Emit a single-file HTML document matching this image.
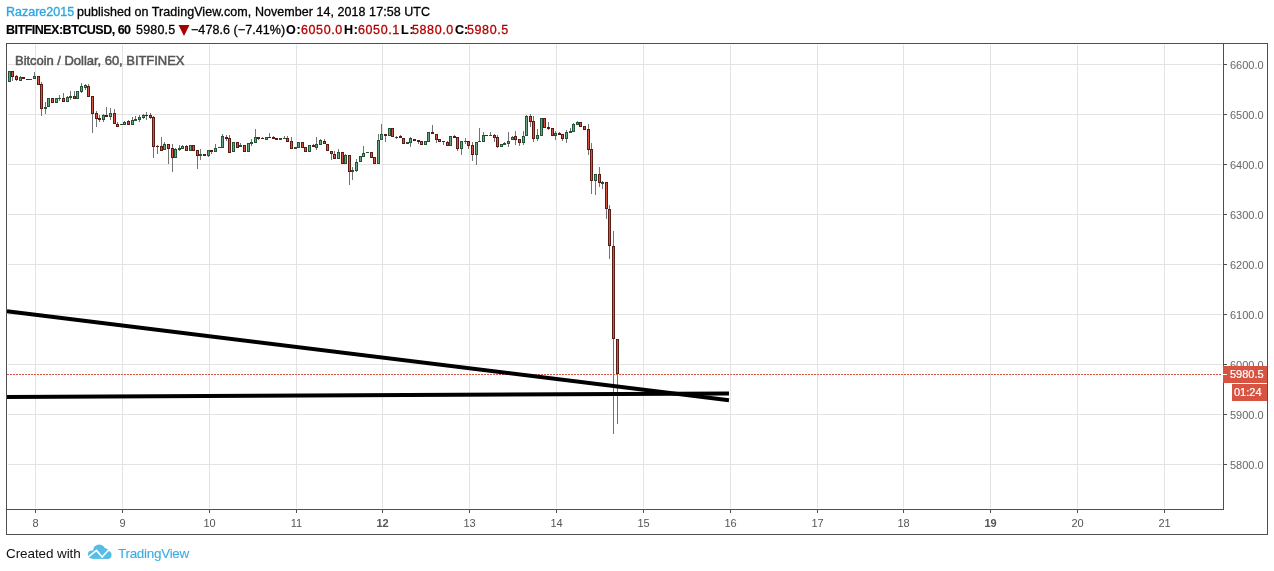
<!DOCTYPE html>
<html><head><meta charset="utf-8"><style>
html,body{margin:0;padding:0;background:#fff;width:1274px;height:571px;overflow:hidden;}
body{position:relative;font-family:"Liberation Sans",sans-serif;}
.t{position:absolute;white-space:nowrap;line-height:1;will-change:transform;}
svg{position:absolute;left:0;top:0;}
</style></head><body>

<svg width="1274" height="571" viewBox="0 0 1274 571" shape-rendering="crispEdges">
<rect x="35" y="45" width="1" height="463" fill="#e3e3e3"/>
<rect x="122" y="45" width="1" height="463" fill="#e3e3e3"/>
<rect x="209" y="45" width="1" height="463" fill="#e3e3e3"/>
<rect x="296" y="45" width="1" height="463" fill="#e3e3e3"/>
<rect x="382" y="45" width="1" height="463" fill="#e3e3e3"/>
<rect x="469" y="45" width="1" height="463" fill="#e3e3e3"/>
<rect x="556" y="45" width="1" height="463" fill="#e3e3e3"/>
<rect x="643" y="45" width="1" height="463" fill="#e3e3e3"/>
<rect x="730" y="45" width="1" height="463" fill="#e3e3e3"/>
<rect x="817" y="45" width="1" height="463" fill="#e3e3e3"/>
<rect x="903" y="45" width="1" height="463" fill="#e3e3e3"/>
<rect x="990" y="45" width="1" height="463" fill="#e3e3e3"/>
<rect x="1077" y="45" width="1" height="463" fill="#e3e3e3"/>
<rect x="1164" y="45" width="1" height="463" fill="#e3e3e3"/>
<rect x="8" y="64" width="1214" height="1" fill="#e3e3e3"/>
<rect x="8" y="114" width="1214" height="1" fill="#e3e3e3"/>
<rect x="8" y="164" width="1214" height="1" fill="#e3e3e3"/>
<rect x="8" y="214" width="1214" height="1" fill="#e3e3e3"/>
<rect x="8" y="264" width="1214" height="1" fill="#e3e3e3"/>
<rect x="8" y="314" width="1214" height="1" fill="#e3e3e3"/>
<rect x="8" y="364" width="1214" height="1" fill="#e3e3e3"/>
<rect x="8" y="414" width="1214" height="1" fill="#e3e3e3"/>
<rect x="8" y="464" width="1214" height="1" fill="#e3e3e3"/>
<rect x="8" y="71" width="3" height="11" fill="#225437"/>
<rect x="9" y="72" width="1" height="9" fill="#6ba583"/>
<rect x="12" y="71" width="1" height="10" fill="#737375"/>
<rect x="11" y="71" width="3" height="6" fill="#5b1a13"/>
<rect x="12" y="72" width="1" height="4" fill="#d75442"/>
<rect x="16" y="75" width="1" height="6" fill="#737375"/>
<rect x="15" y="76" width="3" height="4" fill="#5b1a13"/>
<rect x="16" y="77" width="1" height="2" fill="#d75442"/>
<rect x="20" y="76" width="1" height="5" fill="#737375"/>
<rect x="19" y="77" width="3" height="4" fill="#225437"/>
<rect x="20" y="78" width="1" height="2" fill="#6ba583"/>
<rect x="22" y="77" width="3" height="2" fill="#5b1a13"/>
<rect x="26" y="79" width="3" height="1" fill="#5b1a13"/>
<rect x="29" y="79" width="3" height="1" fill="#225437"/>
<rect x="34" y="72" width="1" height="7" fill="#737375"/>
<rect x="33" y="76" width="3" height="3" fill="#225437"/>
<rect x="34" y="77" width="1" height="1" fill="#6ba583"/>
<rect x="37" y="76" width="3" height="9" fill="#5b1a13"/>
<rect x="38" y="77" width="1" height="7" fill="#d75442"/>
<rect x="41" y="82" width="1" height="34" fill="#737375"/>
<rect x="40" y="84" width="3" height="25" fill="#5b1a13"/>
<rect x="41" y="85" width="1" height="23" fill="#d75442"/>
<rect x="45" y="102" width="1" height="12" fill="#737375"/>
<rect x="44" y="107" width="3" height="2" fill="#225437"/>
<rect x="47" y="98" width="3" height="9" fill="#225437"/>
<rect x="48" y="99" width="1" height="7" fill="#6ba583"/>
<rect x="51" y="98" width="3" height="5" fill="#5b1a13"/>
<rect x="52" y="99" width="1" height="3" fill="#d75442"/>
<rect x="55" y="98" width="3" height="5" fill="#225437"/>
<rect x="56" y="99" width="1" height="3" fill="#6ba583"/>
<rect x="59" y="95" width="1" height="6" fill="#737375"/>
<rect x="58" y="98" width="3" height="1" fill="#225437"/>
<rect x="63" y="93" width="1" height="9" fill="#737375"/>
<rect x="62" y="98" width="3" height="4" fill="#5b1a13"/>
<rect x="63" y="99" width="1" height="2" fill="#d75442"/>
<rect x="67" y="96" width="1" height="6" fill="#737375"/>
<rect x="66" y="97" width="3" height="5" fill="#225437"/>
<rect x="67" y="98" width="1" height="3" fill="#6ba583"/>
<rect x="70" y="91" width="1" height="9" fill="#737375"/>
<rect x="69" y="96" width="3" height="2" fill="#225437"/>
<rect x="74" y="91" width="1" height="8" fill="#737375"/>
<rect x="73" y="96" width="3" height="3" fill="#5b1a13"/>
<rect x="74" y="97" width="1" height="1" fill="#d75442"/>
<rect x="76" y="91" width="3" height="8" fill="#225437"/>
<rect x="77" y="92" width="1" height="6" fill="#6ba583"/>
<rect x="81" y="83" width="1" height="10" fill="#737375"/>
<rect x="80" y="86" width="3" height="6" fill="#225437"/>
<rect x="81" y="87" width="1" height="4" fill="#6ba583"/>
<rect x="85" y="84" width="1" height="6" fill="#737375"/>
<rect x="84" y="85" width="3" height="3" fill="#225437"/>
<rect x="85" y="86" width="1" height="1" fill="#6ba583"/>
<rect x="88" y="84" width="1" height="13" fill="#737375"/>
<rect x="87" y="86" width="3" height="11" fill="#5b1a13"/>
<rect x="88" y="87" width="1" height="9" fill="#d75442"/>
<rect x="92" y="96" width="1" height="37" fill="#737375"/>
<rect x="91" y="96" width="3" height="18" fill="#5b1a13"/>
<rect x="92" y="97" width="1" height="16" fill="#d75442"/>
<rect x="96" y="111" width="1" height="16" fill="#737375"/>
<rect x="95" y="113" width="3" height="6" fill="#5b1a13"/>
<rect x="96" y="114" width="1" height="4" fill="#d75442"/>
<rect x="99" y="115" width="1" height="7" fill="#737375"/>
<rect x="98" y="118" width="3" height="2" fill="#5b1a13"/>
<rect x="103" y="114" width="1" height="8" fill="#737375"/>
<rect x="102" y="115" width="3" height="5" fill="#225437"/>
<rect x="103" y="116" width="1" height="3" fill="#6ba583"/>
<rect x="106" y="107" width="1" height="10" fill="#737375"/>
<rect x="105" y="115" width="3" height="2" fill="#5b1a13"/>
<rect x="110" y="108" width="1" height="12" fill="#737375"/>
<rect x="109" y="113" width="3" height="4" fill="#225437"/>
<rect x="110" y="114" width="1" height="2" fill="#6ba583"/>
<rect x="114" y="109" width="1" height="15" fill="#737375"/>
<rect x="113" y="113" width="3" height="11" fill="#5b1a13"/>
<rect x="114" y="114" width="1" height="9" fill="#d75442"/>
<rect x="117" y="122" width="1" height="5" fill="#737375"/>
<rect x="116" y="124" width="3" height="3" fill="#5b1a13"/>
<rect x="117" y="125" width="1" height="1" fill="#d75442"/>
<rect x="120" y="124" width="3" height="1" fill="#225437"/>
<rect x="124" y="121" width="1" height="4" fill="#737375"/>
<rect x="123" y="122" width="3" height="3" fill="#225437"/>
<rect x="124" y="123" width="1" height="1" fill="#6ba583"/>
<rect x="128" y="120" width="1" height="5" fill="#737375"/>
<rect x="127" y="121" width="3" height="4" fill="#5b1a13"/>
<rect x="128" y="122" width="1" height="2" fill="#d75442"/>
<rect x="132" y="117" width="1" height="8" fill="#737375"/>
<rect x="131" y="120" width="3" height="5" fill="#225437"/>
<rect x="132" y="121" width="1" height="3" fill="#6ba583"/>
<rect x="135" y="116" width="1" height="5" fill="#737375"/>
<rect x="134" y="119" width="3" height="2" fill="#225437"/>
<rect x="139" y="115" width="1" height="7" fill="#737375"/>
<rect x="138" y="117" width="3" height="3" fill="#225437"/>
<rect x="139" y="118" width="1" height="1" fill="#6ba583"/>
<rect x="143" y="114" width="1" height="5" fill="#737375"/>
<rect x="142" y="115" width="3" height="3" fill="#225437"/>
<rect x="143" y="116" width="1" height="1" fill="#6ba583"/>
<rect x="146" y="112" width="1" height="8" fill="#737375"/>
<rect x="145" y="115" width="3" height="1" fill="#5b1a13"/>
<rect x="150" y="113" width="1" height="6" fill="#737375"/>
<rect x="149" y="115" width="3" height="3" fill="#5b1a13"/>
<rect x="150" y="116" width="1" height="1" fill="#d75442"/>
<rect x="153" y="116" width="1" height="42" fill="#737375"/>
<rect x="152" y="117" width="3" height="30" fill="#5b1a13"/>
<rect x="153" y="118" width="1" height="28" fill="#d75442"/>
<rect x="157" y="145" width="1" height="9" fill="#737375"/>
<rect x="156" y="146" width="3" height="1" fill="#5b1a13"/>
<rect x="161" y="137" width="1" height="14" fill="#737375"/>
<rect x="160" y="146" width="3" height="5" fill="#5b1a13"/>
<rect x="161" y="147" width="1" height="3" fill="#d75442"/>
<rect x="164" y="142" width="1" height="8" fill="#737375"/>
<rect x="163" y="144" width="3" height="6" fill="#225437"/>
<rect x="164" y="145" width="1" height="4" fill="#6ba583"/>
<rect x="168" y="144" width="1" height="20" fill="#737375"/>
<rect x="167" y="144" width="3" height="5" fill="#5b1a13"/>
<rect x="168" y="145" width="1" height="3" fill="#d75442"/>
<rect x="172" y="144" width="1" height="28" fill="#737375"/>
<rect x="171" y="148" width="3" height="10" fill="#5b1a13"/>
<rect x="172" y="149" width="1" height="8" fill="#d75442"/>
<rect x="175" y="148" width="1" height="10" fill="#737375"/>
<rect x="174" y="149" width="3" height="9" fill="#225437"/>
<rect x="175" y="150" width="1" height="7" fill="#6ba583"/>
<rect x="179" y="145" width="1" height="6" fill="#737375"/>
<rect x="178" y="148" width="3" height="2" fill="#225437"/>
<rect x="182" y="145" width="1" height="4" fill="#737375"/>
<rect x="181" y="146" width="3" height="3" fill="#225437"/>
<rect x="182" y="147" width="1" height="1" fill="#6ba583"/>
<rect x="186" y="145" width="1" height="6" fill="#737375"/>
<rect x="185" y="146" width="3" height="5" fill="#5b1a13"/>
<rect x="186" y="147" width="1" height="3" fill="#d75442"/>
<rect x="189" y="145" width="3" height="6" fill="#225437"/>
<rect x="190" y="146" width="1" height="4" fill="#6ba583"/>
<rect x="192" y="145" width="3" height="6" fill="#5b1a13"/>
<rect x="193" y="146" width="1" height="4" fill="#d75442"/>
<rect x="197" y="150" width="1" height="19" fill="#737375"/>
<rect x="196" y="150" width="3" height="6" fill="#5b1a13"/>
<rect x="197" y="151" width="1" height="4" fill="#d75442"/>
<rect x="200" y="149" width="1" height="11" fill="#737375"/>
<rect x="199" y="154" width="3" height="2" fill="#225437"/>
<rect x="203" y="154" width="3" height="2" fill="#5b1a13"/>
<rect x="208" y="150" width="1" height="7" fill="#737375"/>
<rect x="207" y="150" width="3" height="6" fill="#225437"/>
<rect x="208" y="151" width="1" height="4" fill="#6ba583"/>
<rect x="211" y="150" width="1" height="4" fill="#737375"/>
<rect x="210" y="150" width="3" height="2" fill="#5b1a13"/>
<rect x="215" y="144" width="1" height="8" fill="#737375"/>
<rect x="214" y="148" width="3" height="4" fill="#225437"/>
<rect x="215" y="149" width="1" height="2" fill="#6ba583"/>
<rect x="218" y="147" width="3" height="1" fill="#225437"/>
<rect x="222" y="134" width="1" height="14" fill="#737375"/>
<rect x="221" y="136" width="3" height="12" fill="#225437"/>
<rect x="222" y="137" width="1" height="10" fill="#6ba583"/>
<rect x="226" y="135" width="1" height="6" fill="#737375"/>
<rect x="225" y="137" width="3" height="2" fill="#5b1a13"/>
<rect x="229" y="135" width="1" height="18" fill="#737375"/>
<rect x="228" y="138" width="3" height="15" fill="#5b1a13"/>
<rect x="229" y="139" width="1" height="13" fill="#d75442"/>
<rect x="232" y="142" width="3" height="10" fill="#225437"/>
<rect x="233" y="143" width="1" height="8" fill="#6ba583"/>
<rect x="236" y="142" width="3" height="6" fill="#5b1a13"/>
<rect x="237" y="143" width="1" height="4" fill="#d75442"/>
<rect x="240" y="143" width="1" height="4" fill="#737375"/>
<rect x="239" y="145" width="3" height="2" fill="#225437"/>
<rect x="243" y="145" width="3" height="7" fill="#5b1a13"/>
<rect x="244" y="146" width="1" height="5" fill="#d75442"/>
<rect x="247" y="143" width="3" height="9" fill="#225437"/>
<rect x="248" y="144" width="1" height="7" fill="#6ba583"/>
<rect x="251" y="139" width="1" height="7" fill="#737375"/>
<rect x="250" y="142" width="3" height="2" fill="#225437"/>
<rect x="255" y="129" width="1" height="14" fill="#737375"/>
<rect x="254" y="137" width="3" height="6" fill="#225437"/>
<rect x="255" y="138" width="1" height="4" fill="#6ba583"/>
<rect x="258" y="137" width="1" height="3" fill="#737375"/>
<rect x="257" y="137" width="3" height="2" fill="#5b1a13"/>
<rect x="262" y="137" width="1" height="2" fill="#737375"/>
<rect x="261" y="138" width="3" height="1" fill="#5b1a13"/>
<rect x="265" y="137" width="3" height="3" fill="#225437"/>
<rect x="266" y="138" width="1" height="1" fill="#6ba583"/>
<rect x="269" y="133" width="1" height="5" fill="#737375"/>
<rect x="268" y="137" width="3" height="1" fill="#5b1a13"/>
<rect x="273" y="136" width="1" height="3" fill="#737375"/>
<rect x="272" y="137" width="3" height="2" fill="#5b1a13"/>
<rect x="275" y="138" width="3" height="2" fill="#5b1a13"/>
<rect x="279" y="138" width="3" height="2" fill="#225437"/>
<rect x="284" y="136" width="1" height="3" fill="#737375"/>
<rect x="283" y="138" width="3" height="1" fill="#225437"/>
<rect x="287" y="136" width="1" height="6" fill="#737375"/>
<rect x="286" y="138" width="3" height="4" fill="#5b1a13"/>
<rect x="287" y="139" width="1" height="2" fill="#d75442"/>
<rect x="291" y="137" width="1" height="12" fill="#737375"/>
<rect x="290" y="141" width="3" height="8" fill="#5b1a13"/>
<rect x="291" y="142" width="1" height="6" fill="#d75442"/>
<rect x="294" y="147" width="3" height="2" fill="#225437"/>
<rect x="297" y="142" width="3" height="6" fill="#225437"/>
<rect x="298" y="143" width="1" height="4" fill="#6ba583"/>
<rect x="301" y="142" width="3" height="6" fill="#5b1a13"/>
<rect x="302" y="143" width="1" height="4" fill="#d75442"/>
<rect x="304" y="147" width="3" height="5" fill="#5b1a13"/>
<rect x="305" y="148" width="1" height="3" fill="#d75442"/>
<rect x="308" y="145" width="3" height="7" fill="#225437"/>
<rect x="309" y="146" width="1" height="5" fill="#6ba583"/>
<rect x="313" y="144" width="1" height="3" fill="#737375"/>
<rect x="312" y="145" width="3" height="2" fill="#5b1a13"/>
<rect x="316" y="137" width="1" height="13" fill="#737375"/>
<rect x="315" y="144" width="3" height="4" fill="#225437"/>
<rect x="316" y="145" width="1" height="2" fill="#6ba583"/>
<rect x="320" y="139" width="1" height="6" fill="#737375"/>
<rect x="319" y="140" width="3" height="5" fill="#225437"/>
<rect x="320" y="141" width="1" height="3" fill="#6ba583"/>
<rect x="324" y="139" width="1" height="5" fill="#737375"/>
<rect x="323" y="141" width="3" height="3" fill="#5b1a13"/>
<rect x="324" y="142" width="1" height="1" fill="#d75442"/>
<rect x="326" y="144" width="3" height="7" fill="#5b1a13"/>
<rect x="327" y="145" width="1" height="5" fill="#d75442"/>
<rect x="331" y="151" width="1" height="9" fill="#737375"/>
<rect x="330" y="151" width="3" height="3" fill="#5b1a13"/>
<rect x="331" y="152" width="1" height="1" fill="#d75442"/>
<rect x="334" y="151" width="1" height="8" fill="#737375"/>
<rect x="333" y="154" width="3" height="5" fill="#5b1a13"/>
<rect x="334" y="155" width="1" height="3" fill="#d75442"/>
<rect x="338" y="149" width="1" height="10" fill="#737375"/>
<rect x="337" y="152" width="3" height="7" fill="#225437"/>
<rect x="338" y="153" width="1" height="5" fill="#6ba583"/>
<rect x="341" y="152" width="3" height="12" fill="#5b1a13"/>
<rect x="342" y="153" width="1" height="10" fill="#d75442"/>
<rect x="345" y="154" width="1" height="10" fill="#737375"/>
<rect x="344" y="155" width="3" height="9" fill="#225437"/>
<rect x="345" y="156" width="1" height="7" fill="#6ba583"/>
<rect x="349" y="155" width="1" height="30" fill="#737375"/>
<rect x="348" y="155" width="3" height="17" fill="#5b1a13"/>
<rect x="349" y="156" width="1" height="15" fill="#d75442"/>
<rect x="352" y="167" width="1" height="13" fill="#737375"/>
<rect x="351" y="170" width="3" height="2" fill="#225437"/>
<rect x="356" y="159" width="1" height="13" fill="#737375"/>
<rect x="355" y="162" width="3" height="9" fill="#225437"/>
<rect x="356" y="163" width="1" height="7" fill="#6ba583"/>
<rect x="359" y="156" width="3" height="6" fill="#225437"/>
<rect x="360" y="157" width="1" height="4" fill="#6ba583"/>
<rect x="363" y="146" width="1" height="11" fill="#737375"/>
<rect x="362" y="153" width="3" height="4" fill="#225437"/>
<rect x="363" y="154" width="1" height="2" fill="#6ba583"/>
<rect x="366" y="152" width="3" height="1" fill="#225437"/>
<rect x="370" y="152" width="3" height="6" fill="#5b1a13"/>
<rect x="371" y="153" width="1" height="4" fill="#d75442"/>
<rect x="373" y="157" width="3" height="7" fill="#5b1a13"/>
<rect x="374" y="158" width="1" height="5" fill="#d75442"/>
<rect x="378" y="134" width="1" height="30" fill="#737375"/>
<rect x="377" y="140" width="3" height="24" fill="#225437"/>
<rect x="378" y="141" width="1" height="22" fill="#6ba583"/>
<rect x="381" y="124" width="1" height="16" fill="#737375"/>
<rect x="380" y="134" width="3" height="6" fill="#225437"/>
<rect x="381" y="135" width="1" height="4" fill="#6ba583"/>
<rect x="385" y="134" width="1" height="8" fill="#737375"/>
<rect x="384" y="134" width="3" height="2" fill="#5b1a13"/>
<rect x="388" y="128" width="3" height="8" fill="#225437"/>
<rect x="389" y="129" width="1" height="6" fill="#6ba583"/>
<rect x="391" y="128" width="3" height="9" fill="#5b1a13"/>
<rect x="392" y="129" width="1" height="7" fill="#d75442"/>
<rect x="396" y="136" width="1" height="3" fill="#737375"/>
<rect x="395" y="137" width="3" height="1" fill="#225437"/>
<rect x="400" y="135" width="1" height="3" fill="#737375"/>
<rect x="399" y="136" width="3" height="2" fill="#5b1a13"/>
<rect x="402" y="138" width="3" height="6" fill="#5b1a13"/>
<rect x="403" y="139" width="1" height="4" fill="#d75442"/>
<rect x="406" y="142" width="3" height="2" fill="#225437"/>
<rect x="410" y="137" width="1" height="10" fill="#737375"/>
<rect x="409" y="138" width="3" height="5" fill="#225437"/>
<rect x="410" y="139" width="1" height="3" fill="#6ba583"/>
<rect x="413" y="139" width="3" height="2" fill="#5b1a13"/>
<rect x="418" y="140" width="1" height="4" fill="#737375"/>
<rect x="417" y="140" width="3" height="2" fill="#5b1a13"/>
<rect x="420" y="141" width="3" height="4" fill="#5b1a13"/>
<rect x="421" y="142" width="1" height="2" fill="#d75442"/>
<rect x="424" y="141" width="3" height="4" fill="#225437"/>
<rect x="425" y="142" width="1" height="2" fill="#6ba583"/>
<rect x="427" y="132" width="3" height="10" fill="#225437"/>
<rect x="428" y="133" width="1" height="8" fill="#6ba583"/>
<rect x="432" y="125" width="1" height="9" fill="#737375"/>
<rect x="431" y="132" width="3" height="2" fill="#5b1a13"/>
<rect x="436" y="134" width="1" height="9" fill="#737375"/>
<rect x="435" y="134" width="3" height="6" fill="#5b1a13"/>
<rect x="436" y="135" width="1" height="4" fill="#d75442"/>
<rect x="438" y="139" width="3" height="3" fill="#5b1a13"/>
<rect x="439" y="140" width="1" height="1" fill="#d75442"/>
<rect x="443" y="141" width="1" height="4" fill="#737375"/>
<rect x="442" y="141" width="3" height="1" fill="#5b1a13"/>
<rect x="447" y="141" width="1" height="5" fill="#737375"/>
<rect x="446" y="142" width="3" height="4" fill="#5b1a13"/>
<rect x="447" y="143" width="1" height="2" fill="#d75442"/>
<rect x="449" y="136" width="3" height="10" fill="#225437"/>
<rect x="450" y="137" width="1" height="8" fill="#6ba583"/>
<rect x="454" y="135" width="1" height="3" fill="#737375"/>
<rect x="453" y="136" width="3" height="2" fill="#5b1a13"/>
<rect x="457" y="137" width="1" height="14" fill="#737375"/>
<rect x="456" y="137" width="3" height="12" fill="#5b1a13"/>
<rect x="457" y="138" width="1" height="10" fill="#d75442"/>
<rect x="461" y="141" width="1" height="14" fill="#737375"/>
<rect x="460" y="141" width="3" height="8" fill="#225437"/>
<rect x="461" y="142" width="1" height="6" fill="#6ba583"/>
<rect x="465" y="138" width="1" height="6" fill="#737375"/>
<rect x="464" y="141" width="3" height="1" fill="#225437"/>
<rect x="468" y="141" width="1" height="8" fill="#737375"/>
<rect x="467" y="141" width="3" height="5" fill="#5b1a13"/>
<rect x="468" y="142" width="1" height="3" fill="#d75442"/>
<rect x="472" y="142" width="1" height="19" fill="#737375"/>
<rect x="471" y="145" width="3" height="10" fill="#5b1a13"/>
<rect x="472" y="146" width="1" height="8" fill="#d75442"/>
<rect x="476" y="142" width="1" height="23" fill="#737375"/>
<rect x="475" y="142" width="3" height="13" fill="#225437"/>
<rect x="476" y="143" width="1" height="11" fill="#6ba583"/>
<rect x="479" y="128" width="1" height="14" fill="#737375"/>
<rect x="478" y="141" width="3" height="1" fill="#225437"/>
<rect x="483" y="132" width="1" height="10" fill="#737375"/>
<rect x="482" y="135" width="3" height="7" fill="#225437"/>
<rect x="483" y="136" width="1" height="5" fill="#6ba583"/>
<rect x="485" y="135" width="3" height="1" fill="#5b1a13"/>
<rect x="490" y="132" width="1" height="4" fill="#737375"/>
<rect x="489" y="135" width="3" height="1" fill="#225437"/>
<rect x="494" y="134" width="1" height="8" fill="#737375"/>
<rect x="493" y="135" width="3" height="3" fill="#5b1a13"/>
<rect x="494" y="136" width="1" height="1" fill="#d75442"/>
<rect x="497" y="135" width="1" height="13" fill="#737375"/>
<rect x="496" y="137" width="3" height="10" fill="#5b1a13"/>
<rect x="497" y="138" width="1" height="8" fill="#d75442"/>
<rect x="500" y="144" width="3" height="3" fill="#225437"/>
<rect x="501" y="145" width="1" height="1" fill="#6ba583"/>
<rect x="504" y="142" width="1" height="3" fill="#737375"/>
<rect x="503" y="143" width="3" height="2" fill="#225437"/>
<rect x="508" y="132" width="1" height="15" fill="#737375"/>
<rect x="507" y="141" width="3" height="3" fill="#225437"/>
<rect x="508" y="142" width="1" height="1" fill="#6ba583"/>
<rect x="512" y="136" width="1" height="4" fill="#737375"/>
<rect x="511" y="137" width="3" height="3" fill="#225437"/>
<rect x="512" y="138" width="1" height="1" fill="#6ba583"/>
<rect x="515" y="131" width="1" height="14" fill="#737375"/>
<rect x="514" y="136" width="3" height="4" fill="#5b1a13"/>
<rect x="515" y="137" width="1" height="2" fill="#d75442"/>
<rect x="519" y="139" width="1" height="7" fill="#737375"/>
<rect x="518" y="139" width="3" height="4" fill="#5b1a13"/>
<rect x="519" y="140" width="1" height="2" fill="#d75442"/>
<rect x="523" y="131" width="1" height="14" fill="#737375"/>
<rect x="522" y="136" width="3" height="7" fill="#225437"/>
<rect x="523" y="137" width="1" height="5" fill="#6ba583"/>
<rect x="526" y="115" width="1" height="21" fill="#737375"/>
<rect x="525" y="116" width="3" height="20" fill="#225437"/>
<rect x="526" y="117" width="1" height="18" fill="#6ba583"/>
<rect x="530" y="114" width="1" height="13" fill="#737375"/>
<rect x="529" y="116" width="3" height="6" fill="#5b1a13"/>
<rect x="530" y="117" width="1" height="4" fill="#d75442"/>
<rect x="533" y="116" width="1" height="26" fill="#737375"/>
<rect x="532" y="121" width="3" height="18" fill="#5b1a13"/>
<rect x="533" y="122" width="1" height="16" fill="#d75442"/>
<rect x="537" y="129" width="1" height="12" fill="#737375"/>
<rect x="536" y="135" width="3" height="4" fill="#225437"/>
<rect x="537" y="136" width="1" height="2" fill="#6ba583"/>
<rect x="540" y="118" width="3" height="18" fill="#225437"/>
<rect x="541" y="119" width="1" height="16" fill="#6ba583"/>
<rect x="543" y="118" width="3" height="10" fill="#5b1a13"/>
<rect x="544" y="119" width="1" height="8" fill="#d75442"/>
<rect x="548" y="122" width="1" height="8" fill="#737375"/>
<rect x="547" y="127" width="3" height="2" fill="#5b1a13"/>
<rect x="551" y="128" width="3" height="8" fill="#5b1a13"/>
<rect x="552" y="129" width="1" height="6" fill="#d75442"/>
<rect x="555" y="131" width="1" height="9" fill="#737375"/>
<rect x="554" y="133" width="3" height="3" fill="#225437"/>
<rect x="555" y="134" width="1" height="1" fill="#6ba583"/>
<rect x="559" y="132" width="1" height="3" fill="#737375"/>
<rect x="558" y="133" width="3" height="2" fill="#5b1a13"/>
<rect x="562" y="134" width="1" height="7" fill="#737375"/>
<rect x="561" y="134" width="3" height="5" fill="#5b1a13"/>
<rect x="562" y="135" width="1" height="3" fill="#d75442"/>
<rect x="566" y="130" width="1" height="13" fill="#737375"/>
<rect x="565" y="132" width="3" height="7" fill="#225437"/>
<rect x="566" y="133" width="1" height="5" fill="#6ba583"/>
<rect x="570" y="128" width="1" height="5" fill="#737375"/>
<rect x="569" y="131" width="3" height="2" fill="#225437"/>
<rect x="573" y="123" width="1" height="9" fill="#737375"/>
<rect x="572" y="124" width="3" height="8" fill="#225437"/>
<rect x="573" y="125" width="1" height="6" fill="#6ba583"/>
<rect x="577" y="121" width="1" height="4" fill="#737375"/>
<rect x="576" y="122" width="3" height="3" fill="#225437"/>
<rect x="577" y="123" width="1" height="1" fill="#6ba583"/>
<rect x="579" y="122" width="3" height="5" fill="#5b1a13"/>
<rect x="580" y="123" width="1" height="3" fill="#d75442"/>
<rect x="583" y="126" width="3" height="4" fill="#5b1a13"/>
<rect x="584" y="127" width="1" height="2" fill="#d75442"/>
<rect x="588" y="124" width="1" height="31" fill="#737375"/>
<rect x="587" y="129" width="3" height="21" fill="#5b1a13"/>
<rect x="588" y="130" width="1" height="19" fill="#d75442"/>
<rect x="591" y="143" width="1" height="51" fill="#737375"/>
<rect x="590" y="149" width="3" height="32" fill="#5b1a13"/>
<rect x="591" y="150" width="1" height="30" fill="#d75442"/>
<rect x="595" y="174" width="1" height="21" fill="#737375"/>
<rect x="594" y="174" width="3" height="7" fill="#225437"/>
<rect x="595" y="175" width="1" height="5" fill="#6ba583"/>
<rect x="599" y="167" width="1" height="20" fill="#737375"/>
<rect x="598" y="174" width="3" height="9" fill="#5b1a13"/>
<rect x="599" y="175" width="1" height="7" fill="#d75442"/>
<rect x="602" y="181" width="1" height="8" fill="#737375"/>
<rect x="601" y="182" width="3" height="2" fill="#225437"/>
<rect x="606" y="182" width="1" height="37" fill="#737375"/>
<rect x="605" y="182" width="3" height="27" fill="#5b1a13"/>
<rect x="606" y="183" width="1" height="25" fill="#d75442"/>
<rect x="609" y="205" width="1" height="54" fill="#737375"/>
<rect x="608" y="209" width="3" height="37" fill="#5b1a13"/>
<rect x="609" y="210" width="1" height="35" fill="#d75442"/>
<rect x="613" y="231" width="1" height="203" fill="#737375"/>
<rect x="612" y="246" width="3" height="93" fill="#5b1a13"/>
<rect x="613" y="247" width="1" height="91" fill="#d75442"/>
<rect x="617" y="339" width="1" height="85" fill="#737375"/>
<rect x="616" y="339" width="3" height="35" fill="#5b1a13"/>
<rect x="617" y="340" width="1" height="33" fill="#d75442"/>
<line x1="7" y1="374.5" x2="1222" y2="374.5" stroke="#d75442" stroke-width="1" stroke-dasharray="2 1"/>
<g shape-rendering="geometricPrecision"><line x1="7" y1="311.35" x2="729" y2="400.2" stroke="#000" stroke-width="4"/>
<line x1="7" y1="396.9" x2="729" y2="393.5" stroke="#000" stroke-width="4"/></g>
<rect x="6" y="43" width="1262" height="1" fill="#4f4f4f"/>
<rect x="6" y="534" width="1262" height="1" fill="#4f4f4f"/>
<rect x="6" y="43" width="1" height="492" fill="#4f4f4f"/>
<rect x="1267" y="43" width="1" height="492" fill="#4f4f4f"/>
<rect x="1223" y="43" width="1" height="467" fill="#4f4f4f"/>
<rect x="6" y="509" width="1218" height="1" fill="#4f4f4f"/>
<rect x="1223" y="64" width="4" height="1" fill="#4f4f4f"/>
<rect x="1223" y="114" width="4" height="1" fill="#4f4f4f"/>
<rect x="1223" y="164" width="4" height="1" fill="#4f4f4f"/>
<rect x="1223" y="214" width="4" height="1" fill="#4f4f4f"/>
<rect x="1223" y="264" width="4" height="1" fill="#4f4f4f"/>
<rect x="1223" y="314" width="4" height="1" fill="#4f4f4f"/>
<rect x="1223" y="364" width="4" height="1" fill="#4f4f4f"/>
<rect x="1223" y="414" width="4" height="1" fill="#4f4f4f"/>
<rect x="1223" y="464" width="4" height="1" fill="#4f4f4f"/>
<rect x="35" y="509" width="1" height="4" fill="#4f4f4f"/>
<rect x="122" y="509" width="1" height="4" fill="#4f4f4f"/>
<rect x="209" y="509" width="1" height="4" fill="#4f4f4f"/>
<rect x="296" y="509" width="1" height="4" fill="#4f4f4f"/>
<rect x="382" y="509" width="1" height="4" fill="#4f4f4f"/>
<rect x="469" y="509" width="1" height="4" fill="#4f4f4f"/>
<rect x="556" y="509" width="1" height="4" fill="#4f4f4f"/>
<rect x="643" y="509" width="1" height="4" fill="#4f4f4f"/>
<rect x="730" y="509" width="1" height="4" fill="#4f4f4f"/>
<rect x="817" y="509" width="1" height="4" fill="#4f4f4f"/>
<rect x="903" y="509" width="1" height="4" fill="#4f4f4f"/>
<rect x="990" y="509" width="1" height="4" fill="#4f4f4f"/>
<rect x="1077" y="509" width="1" height="4" fill="#4f4f4f"/>
<rect x="1164" y="509" width="1" height="4" fill="#4f4f4f"/>
<g shape-rendering="geometricPrecision" fill="#57bde5"><circle cx="99.2" cy="550.6" r="6.1"/><circle cx="104.2" cy="552.6" r="4.6"/><circle cx="91.9" cy="554.4" r="4.0"/><circle cx="107.7" cy="555.0" r="3.9"/><rect x="91.9" y="552" width="15.8" height="6.9"/></g>
<polyline shape-rendering="geometricPrecision" points="87.8,557.3 96.5,550.4 102.1,557.0 110,548.6" fill="none" stroke="#fff" stroke-width="1.5"/>
</svg>
<div class="t" style="left:1230px;top:60px;font-size:11px;color:#666">6600.0</div>
<div class="t" style="left:1230px;top:110px;font-size:11px;color:#666">6500.0</div>
<div class="t" style="left:1230px;top:160px;font-size:11px;color:#666">6400.0</div>
<div class="t" style="left:1230px;top:210px;font-size:11px;color:#666">6300.0</div>
<div class="t" style="left:1230px;top:260px;font-size:11px;color:#666">6200.0</div>
<div class="t" style="left:1230px;top:310px;font-size:11px;color:#666">6100.0</div>
<div class="t" style="left:1230px;top:360px;font-size:11px;color:#666">6000.0</div>
<div class="t" style="left:1230px;top:410px;font-size:11px;color:#666">5900.0</div>
<div class="t" style="left:1230px;top:460px;font-size:11px;color:#666">5800.0</div>
<div class="t" style="left:15px;width:41px;text-align:center;top:518px;font-size:11px;color:#555;">8</div>
<div class="t" style="left:102px;width:41px;text-align:center;top:518px;font-size:11px;color:#555;">9</div>
<div class="t" style="left:189px;width:41px;text-align:center;top:518px;font-size:11px;color:#555;">10</div>
<div class="t" style="left:276px;width:41px;text-align:center;top:518px;font-size:11px;color:#555;">11</div>
<div class="t" style="left:362px;width:41px;text-align:center;top:518px;font-size:11px;color:#555;font-weight:bold;">12</div>
<div class="t" style="left:449px;width:41px;text-align:center;top:518px;font-size:11px;color:#555;">13</div>
<div class="t" style="left:536px;width:41px;text-align:center;top:518px;font-size:11px;color:#555;">14</div>
<div class="t" style="left:623px;width:41px;text-align:center;top:518px;font-size:11px;color:#555;">15</div>
<div class="t" style="left:710px;width:41px;text-align:center;top:518px;font-size:11px;color:#555;">16</div>
<div class="t" style="left:797px;width:41px;text-align:center;top:518px;font-size:11px;color:#555;">17</div>
<div class="t" style="left:883px;width:41px;text-align:center;top:518px;font-size:11px;color:#555;">18</div>
<div class="t" style="left:970px;width:41px;text-align:center;top:518px;font-size:11px;color:#555;font-weight:bold;">19</div>
<div class="t" style="left:1057px;width:41px;text-align:center;top:518px;font-size:11px;color:#555;">20</div>
<div class="t" style="left:1144px;width:41px;text-align:center;top:518px;font-size:11px;color:#555;">21</div>
<div class="t" style="left:6px;top:6px;font-size:12.5px;letter-spacing:0.0px;color:#2ea7e0;-webkit-text-stroke:0.35px #2ea7e0;">Razare2015</div>
<div class="t" style="left:77px;top:6px;font-size:12.5px;letter-spacing:0.054px;color:#000;-webkit-text-stroke:0.3px #000;">published on TradingView.com, November 14, 2018 17:58 UTC</div>
<div class="t" style="left:6px;top:24px;font-size:12.5px;letter-spacing:-0.5px;color:#000;-webkit-text-stroke:0.15px #000;font-weight:bold;">BITFINEX:BTCUSD, 60</div>
<div class="t" style="left:136px;top:24px;font-size:12.5px;letter-spacing:0.2px;color:#000;-webkit-text-stroke:0.3px #000;">5980.5</div>
<div class="t" style="left:191px;top:24px;font-size:12.5px;letter-spacing:0.071px;color:#000;-webkit-text-stroke:0.3px #000;">−478.6 (−7.41%)</div>
<div class="t" style="left:286px;top:24px;font-size:12.5px;letter-spacing:0.8px;color:#000;-webkit-text-stroke:0.15px #000;font-weight:bold;">O:</div>
<div class="t" style="left:301px;top:24px;font-size:12.5px;letter-spacing:0.6px;color:#b40000;-webkit-text-stroke:0.3px #b40000;">6050.0</div>
<div class="t" style="left:344px;top:24px;font-size:12.5px;letter-spacing:0.8px;color:#000;-webkit-text-stroke:0.15px #000;font-weight:bold;">H:</div>
<div class="t" style="left:358px;top:24px;font-size:12.5px;letter-spacing:0.6px;color:#b40000;-webkit-text-stroke:0.3px #b40000;">6050.1</div>
<div class="t" style="left:401px;top:24px;font-size:12.5px;letter-spacing:0.8px;color:#000;-webkit-text-stroke:0.15px #000;font-weight:bold;">L:</div>
<div class="t" style="left:412px;top:24px;font-size:12.5px;letter-spacing:0.6px;color:#b40000;-webkit-text-stroke:0.3px #b40000;">5880.0</div>
<div class="t" style="left:455px;top:24px;font-size:12.5px;letter-spacing:0.0px;color:#000;-webkit-text-stroke:0.15px #000;font-weight:bold;">C:</div>
<div class="t" style="left:467px;top:24px;font-size:12.5px;letter-spacing:0.6px;color:#b40000;-webkit-text-stroke:0.3px #b40000;">5980.5</div>
<div class="t" style="left:15px;top:54px;font-size:13px;letter-spacing:-0.034px;color:#555;-webkit-text-stroke:0.5px #555;">Bitcoin / Dollar, 60, BITFINEX</div>
<div class="t" style="left:6px;top:547px;font-size:13.5px;letter-spacing:-0.091px;color:#111;-webkit-text-stroke:0px #111;">Created with</div>
<div class="t" style="left:118px;top:547px;font-size:13.5px;letter-spacing:-0.3px;color:#37ade3;-webkit-text-stroke:0.1px #37ade3;">TradingView</div>
<div style="position:absolute;left:1223px;top:366px;width:44px;height:17px;background:#d75442"></div>
<div style="position:absolute;left:1223px;top:374px;width:4px;height:1px;background:#fff"></div>
<div style="position:absolute;left:1232px;top:384px;width:35px;height:17px;background:#d75442"></div>
<div class="t" style="left:1230px;top:369px;font-size:11px;color:#fff;-webkit-text-stroke:0.2px #fff">5980.5</div>
<div class="t" style="left:1234px;top:387px;font-size:11px;color:#fff;-webkit-text-stroke:0.2px #fff">01:24</div>
<svg width="12" height="11" style="left:178px;top:25px" viewBox="0 0 11 11"><path d="M0 0H11L5.5 11Z" fill="#a80000"/></svg>
</body></html>
